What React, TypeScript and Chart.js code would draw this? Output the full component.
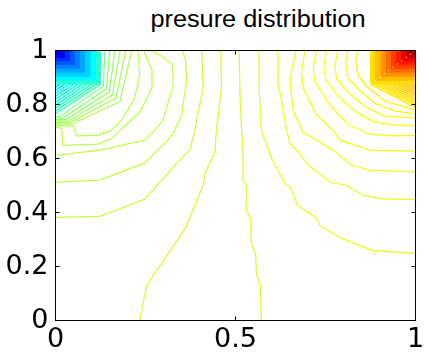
import React, { useEffect, useRef } from "react";
import { Chart, registerables } from "chart.js";

Chart.register(...registerables);

type P = [number, number];

const titleText = "presure distribution";
const xTickValues = [0, 0.5, 1];
const yTickValues = [0, 0.2, 0.4, 0.6, 0.8, 1];

// ---- contour lines, [x, y] ----
// left (low-pressure) family, inner -> outer
const lineG1: P[] = [[0.137, 1], [0.133, 0.868], [0.012, 0.755], [0, 0.755]];
const lineG2: P[] = [[0.151, 1], [0.141, 0.857], [0.02, 0.75], [0, 0.75]];
const lineG3: P[] = [[0.165, 1], [0.149, 0.846], [0.029, 0.744], [0, 0.744]];
const lineG4: P[] = [[0.18, 1], [0.158, 0.835], [0.034, 0.738], [0, 0.738]];
const lineG5: P[] = [[0.195, 1], [0.168, 0.824], [0.04, 0.733], [0, 0.733]];
const lineG6: P[] = [[0.212, 1], [0.179, 0.811], [0.045, 0.727], [0, 0.727]];
const lineE: P[] = [[0.229, 1], [0.234, 0.909], [0.22, 0.824], [0.184, 0.742], [0.156, 0.705], [0.118, 0.686], [0.058, 0.684], [0.051, 0.72], [0, 0.722]];
const lineD: P[] = [[0.245, 1], [0.268, 0.928], [0.268, 0.861], [0.234, 0.772], [0.156, 0.674], [0.118, 0.653], [0.021, 0.649], [0.017, 0.712], [0, 0.716]];
const lineC: P[] = [[0.262, 1], [0.29, 0.983], [0.325, 0.947], [0.327, 0.873], [0.299, 0.743], [0.276, 0.705], [0.248, 0.668], [0.123, 0.631], [0, 0.612]];
const lineB: P[] = [[0.353, 1], [0.362, 0.961], [0.364, 0.887], [0.35, 0.757], [0.323, 0.686], [0.304, 0.657], [0.248, 0.583], [0.123, 0.52], [0, 0.512]];
const lineA: P[] = [[0.406, 1], [0.41, 0.861], [0.387, 0.705], [0.373, 0.631], [0.336, 0.581], [0.248, 0.449], [0.123, 0.386], [0, 0.382]];
const lineL1: P[] = [[0.459, 1], [0.461, 0.861], [0.447, 0.705], [0.443, 0.625], [0.415, 0.544], [0.41, 0.501], [0.362, 0.345], [0.253, 0.13], [0.234, 0]];
// middle line
const lineM: P[] = [[0.51, 1], [0.513, 0.816], [0.517, 0.705], [0.521, 0.619], [0.521, 0.519], [0.531, 0.501], [0.529, 0.408], [0.542, 0.377], [0.544, 0.285], [0.556, 0.247], [0.558, 0.173], [0.569, 0.13], [0.572, 0]];
// right (high-pressure) family, outer -> inner
const lineR1: P[] = [[0.565, 1], [0.566, 0.85], [0.572, 0.705], [0.6, 0.601], [0.637, 0.508], [0.651, 0.494], [0.673, 0.427], [0.726, 0.378], [0.734, 0.353], [0.795, 0.304], [0.879, 0.26], [1, 0.249]];
const lineR2: P[] = [[0.618, 1], [0.618, 0.873], [0.623, 0.849], [0.642, 0.705], [0.651, 0.656], [0.674, 0.625], [0.702, 0.575], [0.762, 0.513], [0.808, 0.501], [0.854, 0.464], [0.901, 0.451], [1, 0.448]];
const lineR3: P[] = [[0.668, 1], [0.651, 0.891], [0.66, 0.779], [0.687, 0.698], [0.771, 0.631], [0.822, 0.575], [0.873, 0.557], [1, 0.55]];
const lineR4: P[] = [[0.693, 1], [0.683, 0.917], [0.688, 0.861], [0.725, 0.762], [0.77, 0.705], [0.79, 0.668], [0.873, 0.631], [1, 0.627]];
const lineR5: P[] = [[0.725, 1], [0.716, 0.935], [0.72, 0.886], [0.762, 0.798], [0.812, 0.727], [0.873, 0.69], [0.929, 0.685], [1, 0.685]];
const lineR6: P[] = [[0.753, 1], [0.745, 0.939], [0.751, 0.891], [0.79, 0.824], [0.84, 0.768], [0.887, 0.735], [0.942, 0.724], [1, 0.722]];
const lineR7: P[] = [[0.785, 1], [0.776, 0.946], [0.781, 0.894], [0.818, 0.839], [0.862, 0.79], [0.915, 0.757], [1, 0.75]];
const lineR8: P[] = [[0.813, 1], [0.806, 0.954], [0.812, 0.898], [0.845, 0.853], [0.887, 0.805], [0.942, 0.776], [1, 0.764]];
const lineR9: P[] = [[0.84, 1], [0.834, 0.957], [0.842, 0.905], [0.867, 0.865], [0.915, 0.813], [1, 0.779]];

const contourLines: P[][] = [
  lineG1, lineG2, lineG3, lineG4, lineG5, lineG6, lineE, lineD, lineC, lineB, lineA, lineL1,
  lineM,
  lineR1, lineR2, lineR3, lineR4, lineR5, lineR6, lineR7, lineR8, lineR9,
];
// normalised contour level of each line (0 = min, 1 = max of the colormap)
const contourLevels = [
  0.5, 0.51, 0.52, 0.53, 0.54, 0.545, 0.55, 0.555, 0.56, 0.565, 0.57, 0.575,
  0.585,
  0.6, 0.605, 0.61, 0.615, 0.62, 0.625, 0.63, 0.635, 0.64,
];

// dense hatching next to the two singular corners
const hatchLow: P[][] = [
  [[0.0125, 0.875], [0, 0.864]],
  [[0.025, 0.875], [0, 0.853]],
  [[0.0375, 0.875], [0, 0.842]],
  [[0.05, 0.875], [0, 0.831]],
  [[0.0625, 0.875], [0, 0.82]],
  [[0.075, 0.875], [0, 0.809]],
  [[0.0875, 0.875], [0, 0.798]],
  [[0.1, 0.875], [0, 0.787]],
  [[0.1125, 0.875], [0, 0.776]],
  [[0.125, 0.875], [0, 0.765]],
];
const hatchLowLevels = [0.36, 0.37, 0.38, 0.39, 0.4, 0.41, 0.42, 0.43, 0.44, 0.45];

const hatchHigh: P[][] = [
  [[0.875, 0.875], [1, 0.79]],
  [[0.8875, 0.875], [1, 0.799]],
  [[0.9, 0.875], [1, 0.807]],
  [[0.9125, 0.875], [1, 0.816]],
  [[0.925, 0.875], [1, 0.824]],
  [[0.9375, 0.875], [1, 0.833]],
  [[0.95, 0.875], [1, 0.841]],
  [[0.9625, 0.875], [1, 0.85]],
  [[0.975, 0.875], [1, 0.858]],
  [[0.9875, 0.875], [1, 0.867]],
];
const hatchHighLevels = [0.645, 0.65, 0.655, 0.66, 0.665, 0.67, 0.675, 0.68, 0.685, 0.69];

// solid bands in the corner cells (size of band measured from the corner)
const lowCornerSizes = [0.125, 0.11, 0.095, 0.08, 0.066, 0.052, 0.038, 0.025, 0.013];
const lowCornerLevels = [0.42, 0.37, 0.33, 0.29, 0.25, 0.21, 0.17, 0.13, 0.1];
const highCornerSizes = [0.125, 0.11, 0.095, 0.08, 0.066, 0.052, 0.038, 0.025, 0.013];
const highCornerLevels = [0.655, 0.69, 0.73, 0.77, 0.81, 0.85, 0.89, 0.93, 0.97];

const highDiagonal: P[] = [[0.875, 0.875], [1, 1]];

function jet(t: number): string {
  const c = (v: number) => Math.max(0, Math.min(1, v));
  const r = c(Math.min(4 * t - 1.5, -4 * t + 4.5));
  const g = c(Math.min(4 * t - 0.5, -4 * t + 3.5));
  const b = c(Math.min(4 * t + 0.5, -4 * t + 2.5));
  return `rgb(${Math.round(r * 255)},${Math.round(g * 255)},${Math.round(b * 255)})`;
}

const toXY = (pts: P[]) => pts.map(([x, y]) => ({ x, y }));

const AREA_LEFT = 55.5;
const AREA_RIGHT = 415.5;
const AREA_TOP = 50.5;
const AREA_BOTTOM = 320.5;
const W = 424;
const H = 358;

const framePlugin = {
  id: "matlabFrame",
  afterDatasetsDraw(chart: any) {
    const { ctx, chartArea: a, scales } = chart;
    ctx.save();
    ctx.strokeStyle = "#000";
    ctx.lineWidth = 1;
    ctx.strokeRect(a.left, a.top, a.right - a.left, a.bottom - a.top);
    const L = 4;
    ctx.beginPath();
    for (const v of xTickValues) {
      const px = scales.x.getPixelForValue(v);
      ctx.moveTo(px, a.bottom);
      ctx.lineTo(px, a.bottom - L);
      ctx.moveTo(px, a.top);
      ctx.lineTo(px, a.top + L);
    }
    for (const v of yTickValues) {
      const py = scales.y.getPixelForValue(v);
      ctx.moveTo(a.left, py);
      ctx.lineTo(a.left + L, py);
      ctx.moveTo(a.right, py);
      ctx.lineTo(a.right - L, py);
    }
    ctx.stroke();
    ctx.restore();
  },
};

export default function App() {
  const ref = useRef<HTMLCanvasElement | null>(null);

  useEffect(() => {
    if (!ref.current) return;
    const datasets: any[] = [];

    lowCornerSizes.forEach((s, i) => {
      const col = jet(lowCornerLevels[i]);
      datasets.push({
        data: toXY([[0, 1], [s, 1], [s, 1 - s], [0, 1 - s], [0, 1]]),
        showLine: true, fill: "shape", backgroundColor: col, borderColor: col,
        borderWidth: 1, pointRadius: 0, order: 200 - i,
      });
    });
    highCornerSizes.forEach((s, i) => {
      const col = jet(highCornerLevels[i]);
      datasets.push({
        data: toXY([[1, 1], [1 - s, 1], [1 - s, 1 - s], [1, 1 - s], [1, 1]]),
        showLine: true, fill: "shape", backgroundColor: col, borderColor: col,
        borderWidth: 1, pointRadius: 0, order: 150 - i,
      });
    });
    datasets.push({
      data: toXY(highDiagonal), showLine: true, borderColor: "rgba(255,255,255,0.85)",
      borderWidth: 1, borderDash: [1.5, 4], pointRadius: 0, fill: false, order: 5,
    });
    hatchLow.forEach((ln, i) => {
      datasets.push({
        data: toXY(ln), showLine: true, borderColor: jet(hatchLowLevels[i]),
        borderWidth: 1.6, pointRadius: 0, fill: false, order: 10,
      });
    });
    hatchHigh.forEach((ln, i) => {
      datasets.push({
        data: toXY(ln), showLine: true, borderColor: jet(hatchHighLevels[i]),
        borderWidth: 1.6, pointRadius: 0, fill: false, order: 10,
      });
    });
    contourLines.forEach((ln, i) => {
      datasets.push({
        data: toXY(ln), showLine: true, borderColor: jet(contourLevels[i]),
        borderWidth: 1.25, pointRadius: 0, fill: false, order: 1,
      });
    });

    const tickFont = { family: "'DejaVu Sans', sans-serif", size: 27 };

    const chart = new Chart(ref.current, {
      type: "scatter",
      data: { datasets },
      options: {
        animation: false,
        responsive: false,
        devicePixelRatio: 1,
        events: [],
        layout: { padding: { left: 0, top: AREA_TOP, right: W - AREA_RIGHT, bottom: 0 } },
        plugins: { legend: { display: false }, tooltip: { enabled: false }, title: { display: false } },
        scales: {
          x: {
            type: "linear", min: 0, max: 1,
            afterBuildTicks: (s: any) => { s.ticks = xTickValues.map((v) => ({ value: v })); },
            afterFit: (s: any) => { s.height = H - AREA_BOTTOM; s.paddingLeft = 0; s.paddingRight = 0; },
            ticks: { font: tickFont, color: "#000", padding: 3, maxRotation: 0, autoSkip: false, callback: (v: any) => String(v) },
            grid: { display: false, drawTicks: false },
            border: { display: false },
          },
          y: {
            type: "linear", min: 0, max: 1,
            afterBuildTicks: (s: any) => { s.ticks = yTickValues.map((v) => ({ value: v })); },
            afterFit: (s: any) => { s.width = AREA_LEFT; s.paddingTop = 0; s.paddingBottom = 0; },
            ticks: { font: tickFont, color: "#000", padding: 7, autoSkip: false, callback: (v: any) => String(v) },
            grid: { display: false, drawTicks: false },
            border: { display: false },
          },
        },
      },
      plugins: [framePlugin],
    } as any);
    return () => chart.destroy();
  }, []);

  return (
    <div style={{ position: "fixed", left: 0, top: 0, width: W, height: H, background: "#fff" }}>
      <div
        style={{
          position: "absolute", left: 108, width: 300, top: 8, textAlign: "center",
          fontFamily: "'Liberation Sans', Arial, sans-serif", fontSize: 23, lineHeight: "23px",
          color: "#000", transform: "scaleX(1.1)", whiteSpace: "nowrap",
        }}
      >
        {titleText}
      </div>
      <canvas ref={ref} width={W} height={H} style={{ position: "absolute", left: 0, top: 0, width: W, height: H }} />
    </div>
  );
}
